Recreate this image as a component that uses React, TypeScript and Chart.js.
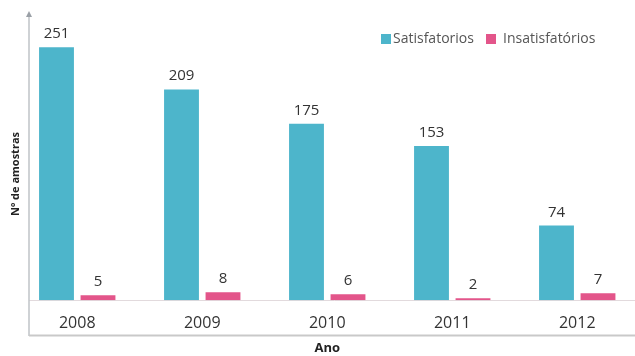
import React, { useEffect, useRef } from "react";
import { Chart, registerables } from "chart.js";

Chart.register(...registerables);

const categories = ["2008", "2009", "2010", "2011", "2012"];
const satisfatorios = [251, 209, 175, 153, 74];
const insatisfatorios = [5, 8, 6, 2, 7];
const seriesNames = ["Satisfatorios", "Insatisfatórios"];
const yTitle = "Nº de amostras";
const xTitle = "Ano";

const TEAL = "#4DB5CB";
const PINK = "#E3558A";
const FONT = "'Open Sans', 'Noto Sans', sans-serif";

const decorPlugin = {
  id: "decor",
  beforeDatasetsDraw(chart: any) {
    const ctx = chart.ctx;
    const y0 = chart.scales.y.getPixelForValue(0);
    ctx.save();
    // baseline
    ctx.strokeStyle = "#e2dadd";
    ctx.lineWidth = 1;
    ctx.beginPath();
    ctx.moveTo(29, Math.round(y0) + 0.5);
    ctx.lineTo(640, Math.round(y0) + 0.5);
    ctx.stroke();
    // left axis line
    ctx.strokeStyle = "#bfc3c7";
    ctx.lineWidth = 1.5;
    ctx.beginPath();
    ctx.moveTo(29, 15);
    ctx.lineTo(29, 336);
    ctx.stroke();
    // arrow head
    ctx.fillStyle = "#9aa0a6";
    ctx.beginPath();
    ctx.moveTo(29, 11);
    ctx.lineTo(26, 17);
    ctx.lineTo(32, 17);
    ctx.closePath();
    ctx.fill();
    // bottom frame line
    ctx.strokeStyle = "#c9c9c9";
    ctx.lineWidth = 2;
    ctx.beginPath();
    ctx.moveTo(29, 335.5);
    ctx.lineTo(640, 335.5);
    ctx.stroke();
    // y title
    ctx.translate(16, 174);
    ctx.rotate(-Math.PI / 2);
    ctx.fillStyle = "#222";
    ctx.font = `bold 11px ${FONT}`;
    ctx.textAlign = "center";
    ctx.textBaseline = "middle";
    ctx.fillText(yTitle, 0, 0);
    ctx.restore();
  },
  afterDatasetsDraw(chart: any) {
    const ctx = chart.ctx;
    ctx.save();
    ctx.font = `15px ${FONT}`;
    ctx.fillStyle = "#333";
    ctx.textAlign = "center";
    ctx.textBaseline = "alphabetic";
    chart.data.datasets.forEach((ds: any, di: number) => {
      const meta = chart.getDatasetMeta(di);
      meta.data.forEach((el: any, i: number) => {
        ctx.fillText(String(ds.data[i]), el.x, el.y - 9);
      });
    });
    // legend
    const items = [
      { x: 381, tx: 393, color: TEAL, label: chart.data.datasets[0].label },
      { x: 486, tx: 503, color: PINK, label: chart.data.datasets[1].label },
    ];
    ctx.font = `14px ${FONT}`;
    ctx.textAlign = "left";
    ctx.textBaseline = "middle";
    items.forEach((it) => {
      ctx.fillStyle = it.color;
      ctx.fillRect(it.x, 34, 10, 10);
      ctx.fillStyle = "#555";
      ctx.fillText(it.label, it.tx, 39);
    });
    ctx.restore();
  },
};

export default function App() {
  const ref = useRef<HTMLCanvasElement | null>(null);
  useEffect(() => {
    if (!ref.current) return;
    const chart = new Chart(ref.current, {
      type: "bar",
      data: {
        labels: categories,
        datasets: [
          {
            label: seriesNames[0],
            data: satisfatorios,
            backgroundColor: TEAL,
            barPercentage: 0.84,
            categoryPercentage: 0.664,
          },
          {
            label: seriesNames[1],
            data: insatisfatorios,
            backgroundColor: PINK,
            barPercentage: 0.84,
            categoryPercentage: 0.664,
          },
        ],
      },
      options: {
        responsive: false,
        animation: false,
        layout: { padding: { left: 14.75, right: 10.25, top: 28, bottom: 0 } },
        plugins: { legend: { display: false }, tooltip: { enabled: false } },
        scales: {
          x: {
            offset: true,
            grid: { display: false, drawTicks: false },
            border: { display: false },
            ticks: {
              font: { family: FONT, size: 16 },
              color: "#333",
              padding: 14,
            },
            title: {
              display: true,
              text: xTitle,
              font: { family: FONT, size: 13, weight: "bold" },
              color: "#222",
              padding: { top: -7, bottom: 0 },
            },
          },
          y: { display: false, min: 0, max: 270 },
        },
      },
      plugins: [decorPlugin],
    });
    return () => chart.destroy();
  }, []);
  return (
    <div
      style={{
        position: "absolute",
        left: 0,
        top: 0,
        width: 635,
        height: 356,
        overflow: "hidden",
        background: "#fff",
      }}
    >
      <canvas ref={ref} width={650} height={356} style={{ display: "block" }} />
    </div>
  );
}
